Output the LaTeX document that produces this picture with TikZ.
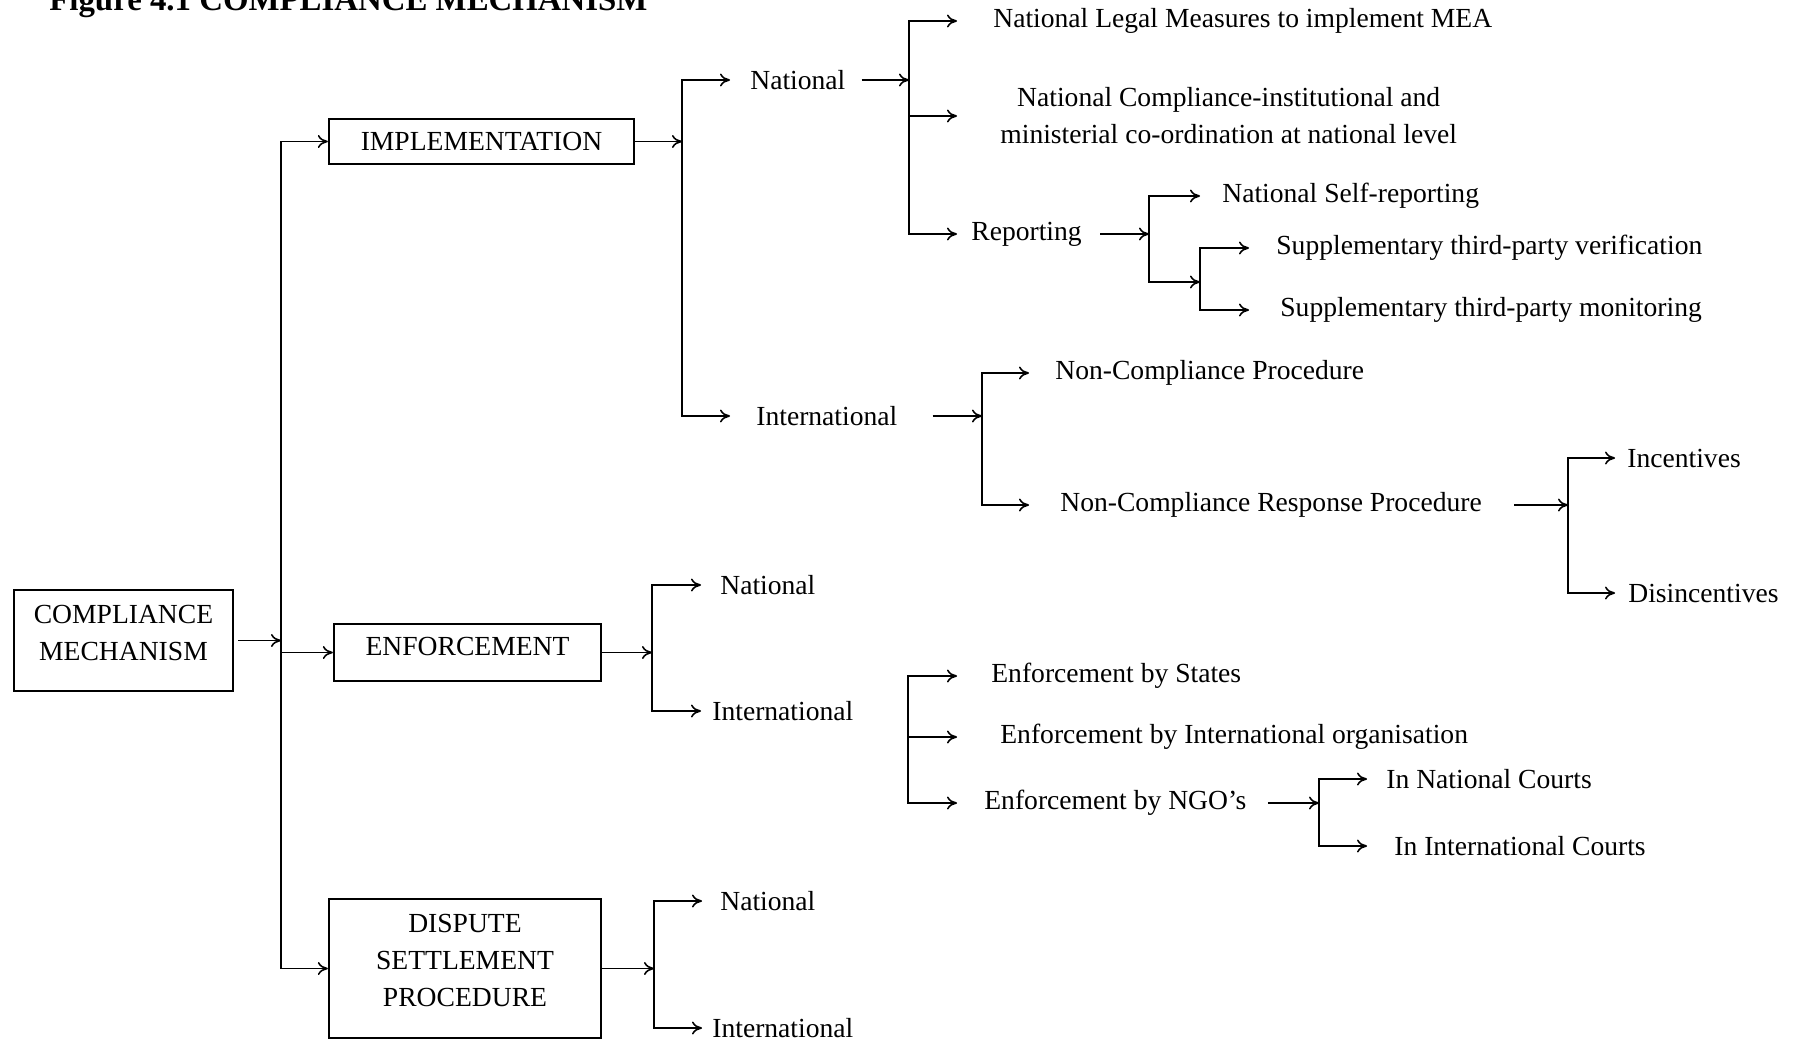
\documentclass[tikz,border=0pt]{standalone}
\usepackage{fontspec}
\setmainfont{Liberation Serif}
\usepackage{tikz}
\usetikzlibrary{positioning,arrows.meta,calc}
\tikzset{
  box/.style  ={rectangle, draw, line width=1.3pt, align=center, inner sep=0pt},
  lbl/.style  ={inner sep=0pt, anchor=west},
  arr/.style  ={-{To[length=2mm,width=2.6mm]}, line width=0.9pt},
}

\begin{document}
\begin{tikzpicture}[x=0.2mm, y=-0.2mm, font=\fontsize{15.7}{21}\selectfont]
\useasboundingbox (0,0) rectangle (1798,1046);
\node[inner sep=0pt, anchor=base west, font=\bfseries\fontsize{18.7}{22}\selectfont] (title) at (49,10) {Figure 4.1 COMPLIANCE MECHANISM};

% main boxes
\node[box, minimum width=43.8mm, minimum height=20.2mm, text depth=3.2mm] (cm) at (123.5,640.5) {COMPLIANCE\\MECHANISM};
\node[box, minimum width=61mm, minimum height=9mm] (impl) at (481.5,141.5) {IMPLEMENTATION};
\node[box, minimum width=53.4mm, minimum height=11.4mm, text depth=2.4mm] (enf) at (467.5,652.5) {ENFORCEMENT};
\node[box, minimum width=54.4mm, minimum height=27.8mm, text depth=3.2mm] (dsp) at (465,968.5) {DISPUTE\\SETTLEMENT\\PROCEDURE};

% implementation branch
\node[lbl] (natA) at (750,80) {National};
\node[lbl] (intA) at (756,416) {International};
\node[lbl] (legal) at (993,21) {National Legal Measures to implement MEA};
\node[lbl, align=center] (natcomp) at (1000,116) {National Compliance-institutional and\\ministerial co-ordination at national level};
\node[lbl] (report) at (971,234) {Reporting};
\node[lbl] (selfrep) at (1222,196) {National Self-reporting};
\node[lbl] (verif) at (1276,248) {Supplementary third-party verification};
\node[lbl] (monit) at (1280,310) {Supplementary third-party monitoring};
\node[lbl] (ncp) at (1055,373) {Non-Compliance Procedure};
\node[lbl] (ncrp) at (1060,505) {Non-Compliance Response Procedure};
\node[lbl] (incent) at (1627,458) {Incentives};
\node[lbl] (disinc) at (1628,593) {Disincentives};

% enforcement branch
\node[lbl] (natB) at (720,585) {National};
\node[lbl] (intB) at (712,711) {International};
\node[lbl] (states) at (991,676) {Enforcement by States};
\node[lbl] (intorg) at (1000,737) {Enforcement by International organisation};
\node[lbl] (ngo) at (984,803) {Enforcement by NGO’s};
\node[lbl] (natcourt) at (1386,779) {In National Courts};
\node[lbl] (intcourt) at (1394,846) {In International Courts};

% dispute settlement branch
\node[lbl] (natC) at (720,901) {National};
\node[lbl] (intC) at (712,1028) {International};

% bar and tip positions
\coordinate (trk) at (281,0);
\coordinate (b1) at (682,0);  \coordinate (t1) at (730,0);
\coordinate (b2) at (909,0);  \coordinate (t2) at (957,0);
\coordinate (b3) at (1149,0); \coordinate (t3) at (1200,0);
\coordinate (sj) at (1200,282); \coordinate (t4) at (1249,0);
\coordinate (b5) at (982,0);  \coordinate (t5) at (1029,0);
\coordinate (b6) at (1568,0); \coordinate (t6) at (1615,0);
\coordinate (b7) at (652,0);  \coordinate (t7) at (701,0);
\coordinate (eb) at (908,739);
\coordinate (b9) at (1319,0); \coordinate (t9) at (1367,0);
\coordinate (b10) at (654,0); \coordinate (t10) at (702,0);

% trunk
\draw[arr] ([xshift=0.8mm]cm.east) -- (cm.east -| trk);
\draw[arr] (cm.east -| trk) |- (impl.west);
\draw[arr] (cm.east -| trk) |- (enf.west);
\draw[arr] (cm.east -| trk) |- (dsp.west);

% implementation fans
\draw[arr] (impl.east) -- (impl.east -| b1);
\draw[arr] (impl.east -| b1) |- (natA.west -| t1);
\draw[arr] (impl.east -| b1) |- (intA.west -| t1);
\draw[arr] ([xshift=3.2mm]natA.east) -- (natA.east -| b2);
\draw[arr] (natA.east -| b2) |- (legal.west -| t2);
\draw[arr] (natA.east -| b2) |- (natcomp.west -| t2);
\draw[arr] (natA.east -| b2) |- (report.west -| t2);
\draw[arr] ([xshift=3.6mm]report.east) -- (report.east -| b3);
\draw[arr] (report.east -| b3) |- (selfrep.west -| t3);
\draw[arr] (report.east -| b3) |- (sj);
\draw[arr] (sj) |- (verif.west -| t4);
\draw[arr] (sj) |- (monit.west -| t4);
\draw[arr] ([xshift=7mm]intA.east) -- (intA.east -| b5);
\draw[arr] (intA.east -| b5) |- (ncp.west -| t5);
\draw[arr] (intA.east -| b5) |- (ncrp.west -| t5);
\draw[arr] ([xshift=6.4mm]ncrp.east) -- (ncrp.east -| b6);
\draw[arr] (ncrp.east -| b6) |- (incent.west -| t6);
\draw[arr] (ncrp.east -| b6) |- (disinc.west -| t6);

% enforcement fans
\draw[arr] (enf.east) -- (enf.east -| b7);
\draw[arr] (enf.east -| b7) |- (natB.west -| t7);
\draw[arr] (enf.east -| b7) |- (intB.west -| t7);
\draw[arr] (eb) |- (states.west -| t2);
\draw[arr] (eb) |- (intorg.west -| t2);
\draw[arr] (eb) |- (ngo.west -| t2);
\draw[arr] ([xshift=4.2mm]ngo.east) -- (ngo.east -| b9);
\draw[arr] (ngo.east -| b9) |- (natcourt.west -| t9);
\draw[arr] (ngo.east -| b9) |- (intcourt.west -| t9);

% dispute settlement fan
\draw[arr] (dsp.east) -- (dsp.east -| b10);
\draw[arr] (dsp.east -| b10) |- (natC.west -| t10);
\draw[arr] (dsp.east -| b10) |- (intC.west -| t10);
\end{tikzpicture}
\end{document}
